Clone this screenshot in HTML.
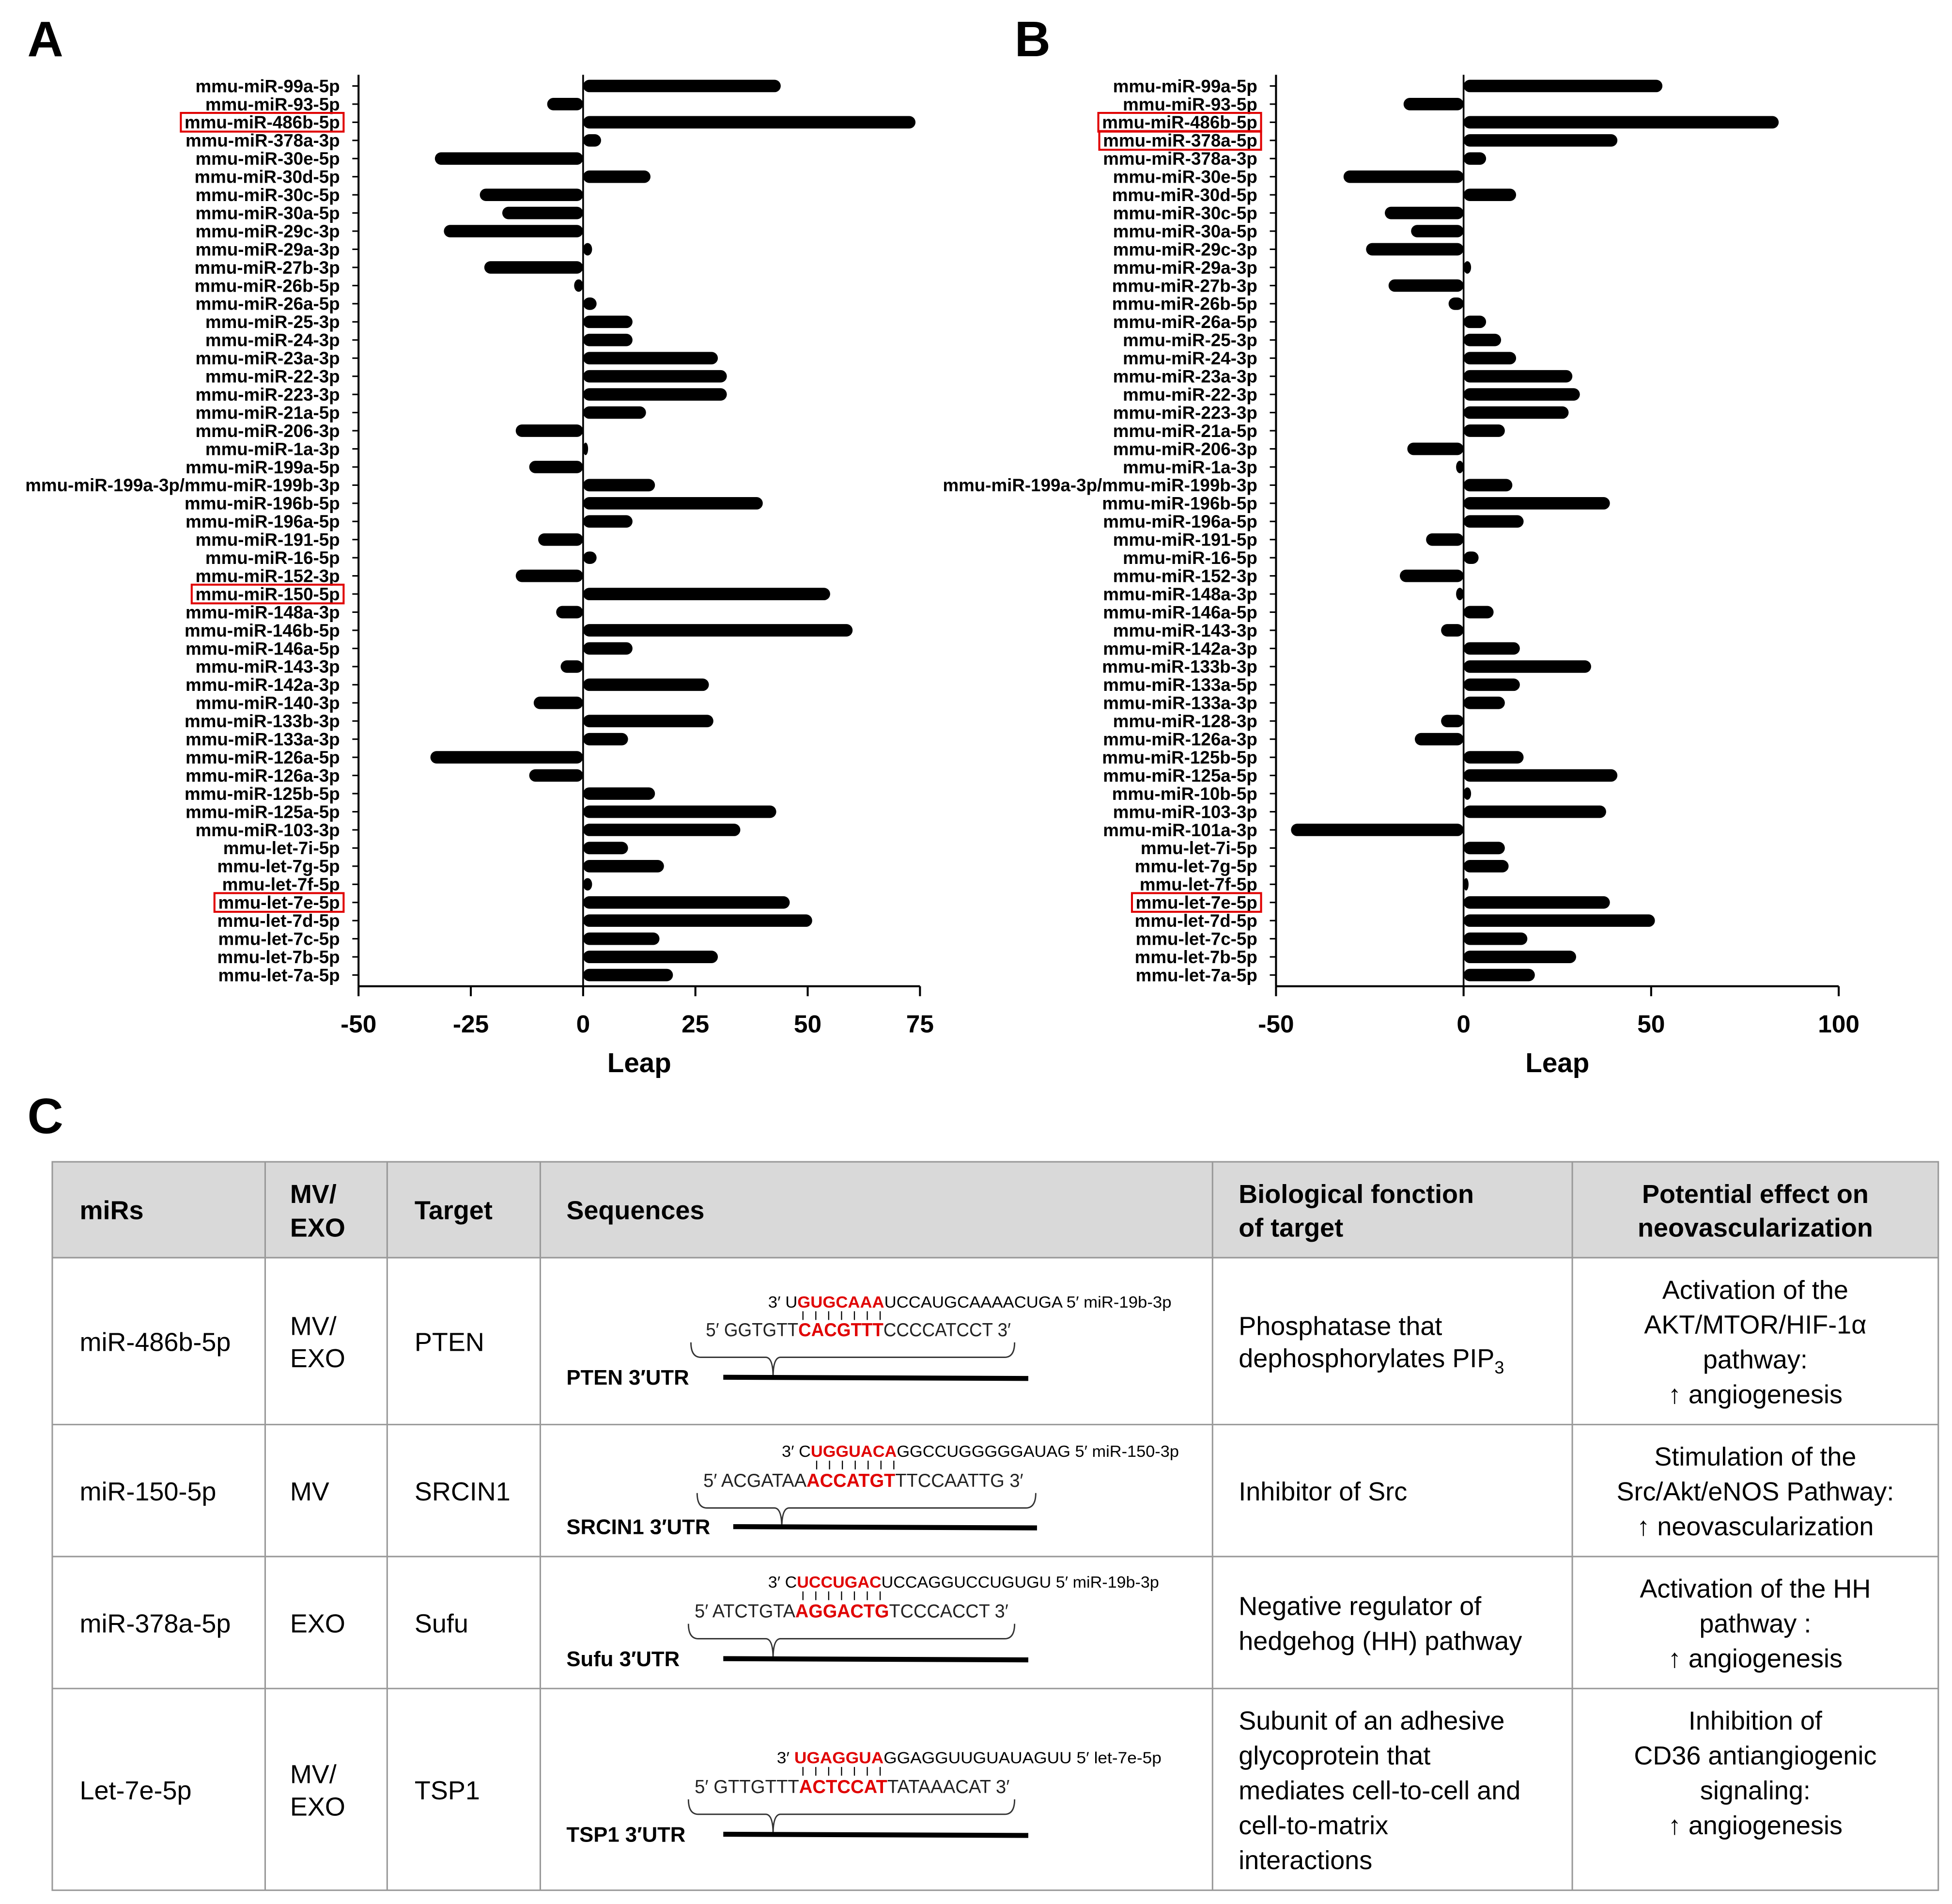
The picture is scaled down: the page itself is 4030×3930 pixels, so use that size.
<!DOCTYPE html>
<html><head><meta charset="utf-8"><style>
html,body{margin:0;padding:0;background:#fff}
svg{display:block}
text{font-family:"Liberation Sans",sans-serif}
.lab{font-size:14.3px;font-weight:bold;text-anchor:end}
.tick{font-size:20px;font-weight:bold;text-anchor:middle}
.cell{font-size:21px}
.hd{font-size:21px;font-weight:bold}
.sq1{font-size:13px}
.sq2{font-size:15px}
.r{fill:#e00000;font-weight:bold}
.utr{font-size:17px;font-weight:bold}
</style></head><body>
<svg id="fig" width="4030" height="3930" viewBox="0 0 1568 1529" xmlns="http://www.w3.org/2000/svg">
<text x="22" y="45" font-size="40" font-weight="bold">A</text>
<text x="815" y="45" font-size="40" font-weight="bold">B</text>
<text x="22" y="910" font-size="40" font-weight="bold">C</text>
<g id="chartA"></g>
<g id="chartB"></g>

<g>
<rect x="42" y="933" width="1515" height="77" fill="#d9d9d9"/>
<g stroke="#999" stroke-width="1.2" fill="none">
<rect x="42" y="933" width="1515" height="585"/>
<line x1="42" y1="1010" x2="1557" y2="1010"/><line x1="42" y1="1144" x2="1557" y2="1144"/>
<line x1="42" y1="1250" x2="1557" y2="1250"/><line x1="42" y1="1356" x2="1557" y2="1356"/>
<line x1="213" y1="933" x2="213" y2="1518"/><line x1="311" y1="933" x2="311" y2="1518"/>
<line x1="434" y1="933" x2="434" y2="1518"/><line x1="974" y1="933" x2="974" y2="1518"/>
<line x1="1263" y1="933" x2="1263" y2="1518"/>
</g>
<g class="hd">
<text x="64" y="979">miRs</text>
<text x="233" y="966">MV/<tspan x="233" dy="27">EXO</tspan></text>
<text x="333" y="979">Target</text>
<text x="455" y="979">Sequences</text>
<text x="995" y="966">Biological fonction<tspan x="995" dy="27">of target</tspan></text>
<text x="1410" y="966" text-anchor="middle">Potential effect on<tspan x="1410" dy="27">neovascularization</tspan></text>
</g>
<g class="cell">
<text x="64" y="1085">miR-486b-5p</text>
<text x="233" y="1072">MV/<tspan x="233" dy="26">EXO</tspan></text>
<text x="333" y="1085">PTEN</text>
<text x="995" y="1072">Phosphatase that<tspan x="995" dy="26">dephosphorylates PIP</tspan><tspan font-size="14" dy="5">3</tspan></text>
<text x="1410" y="1043" text-anchor="middle">Activation of the<tspan x="1410" dy="28">AKT/MTOR/HIF-1α</tspan><tspan x="1410" dy="28">pathway:</tspan><tspan x="1410" dy="28">↑ angiogenesis</tspan></text>

<text x="64" y="1205">miR-150-5p</text>
<text x="233" y="1205">MV</text>
<text x="333" y="1205">SRCIN1</text>
<text x="995" y="1205">Inhibitor of Src</text>
<text x="1410" y="1177" text-anchor="middle">Stimulation of the<tspan x="1410" dy="28">Src/Akt/eNOS Pathway:</tspan><tspan x="1410" dy="28">↑ neovascularization</tspan></text>

<text x="64" y="1311">miR-378a-5p</text>
<text x="233" y="1311">EXO</text>
<text x="333" y="1311">Sufu</text>
<text x="995" y="1297">Negative regulator of<tspan x="995" dy="28">hedgehog (HH) pathway</tspan></text>
<text x="1410" y="1283" text-anchor="middle">Activation of the HH<tspan x="1410" dy="28">pathway :</tspan><tspan x="1410" dy="28">↑ angiogenesis</tspan></text>

<text x="64" y="1445">Let-7e-5p</text>
<text x="233" y="1432">MV/<tspan x="233" dy="26">EXO</tspan></text>
<text x="333" y="1445">TSP1</text>
<text x="995" y="1389">Subunit of an adhesive<tspan x="995" dy="28">glycoprotein that</tspan><tspan x="995" dy="28">mediates cell-to-cell and</tspan><tspan x="995" dy="28">cell-to-matrix</tspan><tspan x="995" dy="28">interactions</tspan></text>
<text x="1410" y="1389" text-anchor="middle">Inhibition of<tspan x="1410" dy="28">CD36 antiangiogenic</tspan><tspan x="1410" dy="28">signaling:</tspan><tspan x="1410" dy="28">↑ angiogenesis</tspan></text>
</g>
<g id="seqs"></g>
</g>
</svg>
<script>
const NS="http://www.w3.org/2000/svg";
const labelsA=["mmu-miR-99a-5p","mmu-miR-93-5p","mmu-miR-486b-5p","mmu-miR-378a-3p","mmu-miR-30e-5p","mmu-miR-30d-5p","mmu-miR-30c-5p","mmu-miR-30a-5p","mmu-miR-29c-3p","mmu-miR-29a-3p","mmu-miR-27b-3p","mmu-miR-26b-5p","mmu-miR-26a-5p","mmu-miR-25-3p","mmu-miR-24-3p","mmu-miR-23a-3p","mmu-miR-22-3p","mmu-miR-223-3p","mmu-miR-21a-5p","mmu-miR-206-3p","mmu-miR-1a-3p","mmu-miR-199a-5p","mmu-miR-199a-3p/mmu-miR-199b-3p","mmu-miR-196b-5p","mmu-miR-196a-5p","mmu-miR-191-5p","mmu-miR-16-5p","mmu-miR-152-3p","mmu-miR-150-5p","mmu-miR-148a-3p","mmu-miR-146b-5p","mmu-miR-146a-5p","mmu-miR-143-3p","mmu-miR-142a-3p","mmu-miR-140-3p","mmu-miR-133b-3p","mmu-miR-133a-3p","mmu-miR-126a-5p","mmu-miR-126a-3p","mmu-miR-125b-5p","mmu-miR-125a-5p","mmu-miR-103-3p","mmu-let-7i-5p","mmu-let-7g-5p","mmu-let-7f-5p","mmu-let-7e-5p","mmu-let-7d-5p","mmu-let-7c-5p","mmu-let-7b-5p","mmu-let-7a-5p"];
const valuesA=[44,-8,74,4,-33,15,-23,-18,-31,2,-22,-2,3,11,11,30,32,32,14,-15,0.5,-12,16,40,11,-10,3,-15,55,-6,60,11,-5,28,-11,29,10,-34,-12,16,43,35,10,18,2,46,51,17,30,20];
const ticksA=[-50,-25,0,25,50,75];
const boxedA=["mmu-miR-486b-5p","mmu-miR-150-5p","mmu-let-7e-5p"];
const labelsB=["mmu-miR-99a-5p","mmu-miR-93-5p","mmu-miR-486b-5p","mmu-miR-378a-5p","mmu-miR-378a-3p","mmu-miR-30e-5p","mmu-miR-30d-5p","mmu-miR-30c-5p","mmu-miR-30a-5p","mmu-miR-29c-3p","mmu-miR-29a-3p","mmu-miR-27b-3p","mmu-miR-26b-5p","mmu-miR-26a-5p","mmu-miR-25-3p","mmu-miR-24-3p","mmu-miR-23a-3p","mmu-miR-22-3p","mmu-miR-223-3p","mmu-miR-21a-5p","mmu-miR-206-3p","mmu-miR-1a-3p","mmu-miR-199a-3p/mmu-miR-199b-3p","mmu-miR-196b-5p","mmu-miR-196a-5p","mmu-miR-191-5p","mmu-miR-16-5p","mmu-miR-152-3p","mmu-miR-148a-3p","mmu-miR-146a-5p","mmu-miR-143-3p","mmu-miR-142a-3p","mmu-miR-133b-3p","mmu-miR-133a-5p","mmu-miR-133a-3p","mmu-miR-128-3p","mmu-miR-126a-3p","mmu-miR-125b-5p","mmu-miR-125a-5p","mmu-miR-10b-5p","mmu-miR-103-3p","mmu-miR-101a-3p","mmu-let-7i-5p","mmu-let-7g-5p","mmu-let-7f-5p","mmu-let-7e-5p","mmu-let-7d-5p","mmu-let-7c-5p","mmu-let-7b-5p","mmu-let-7a-5p"];
const valuesB=[53,-16,84,41,6,-32,14,-21,-14,-26,2,-20,-4,6,10,14,29,31,28,11,-15,-2,13,39,16,-10,4,-17,-2,8,-6,15,34,15,11,-6,-13,16,41,2,38,-46,11,12,0,39,51,17,30,19];
const ticksB=[-50,0,50,100];
const boxedB=["mmu-miR-486b-5p","mmu-miR-378a-5p","mmu-let-7e-5p"];

function el(tag,attrs,parent){const e=document.createElementNS(NS,tag);for(const k in attrs)e.setAttribute(k,attrs[k]);parent.appendChild(e);return e;}

function drawChart(g,labels,values,ticks,boxed,x0,x1){
  const lo=ticks[0],hi=ticks[ticks.length-1];
  const xs=v=>x0+(v-lo)/(hi-lo)*(x1-x0);
  const yTop=69,yBot=783,step=(yBot-yTop)/(labels.length-1);
  const ys=i=>yTop+i*step;
  const zx=xs(0);
  const ya=el('line',{x1:x0,y1:60,x2:x0,y2:792,stroke:'#000','stroke-width':1.6},g);
  
  const xa=el('line',{x1:x0,y1:792,x2:x1,y2:792,stroke:'#000','stroke-width':1.6},g);
  
  el('line',{x1:zx,y1:60,x2:zx,y2:792,stroke:'#000','stroke-width':1.4},g);
  ticks.forEach(t=>{
    el('line',{x1:xs(t),y1:792,x2:xs(t),y2:800,stroke:'#000','stroke-width':1.6},g);
    const tl=el('text',{x:xs(t),y:829,class:'tick'},g);tl.textContent=t;
    
    
  });
  const xt=el('text',{x:(x0+x1)/2,y:861,'font-size':22,'font-weight':'bold','text-anchor':'middle'},g);
  xt.textContent='Leap';
  
  
  labels.forEach((lab,i)=>{
    const y=ys(i);
    el('line',{x1:x0-5,y1:y,x2:x0,y2:y,stroke:'#000','stroke-width':1.2},g);
    const t=el('text',{x:x0-15,y:y+5,class:'lab'},g);t.textContent=lab;
    
    
    if(boxed.includes(lab)){
      let w;try{w=t.getComputedTextLength()+6;}catch(e){w=lab.length*8.3+6;}
      if(!w||w<10)w=lab.length*8.3+6;
      const b=el('rect',{x:x0-12-w,y:y-7.5,width:w,height:15,fill:'none',stroke:'#e00000','stroke-width':1.6},g);
      
      
    }
    const v=values[i];
    const w=Math.max(Math.abs(xs(v)-zx),4);
    const bar=el('rect',{x:v<0?zx-w:zx,y:y-5,width:w,height:10,rx:5,fill:'#000'},g);
    
    
  });
}
drawChart(document.getElementById('chartA'),labelsA,valuesA,ticksA,boxedA,288,739);
drawChart(document.getElementById('chartB'),labelsB,valuesB,ticksB,boxedB,1025,1477);

const seqs=[
 {ty:1050,tx:617,tparts:["3′ U","GUGCAAA","UCCAUGCAAAACUGA 5′  miR-19b-3p"],tw:324,my:1073,mx:567,mparts:["5′ GGTGTT","CACGTTT","CCCCATCCT 3′"],mw:245,b1:555,b2:815,p:621,ly:1112,lab:"PTEN 3′UTR",l1:581,l2:826,bx:645,bw:62},
 {ty:1170,tx:628,tparts:["3′ C","UGGUACA","GGCCUGGGGGAUAG 5′  miR-150-3p"],tw:319,my:1194,mx:565,mparts:["5′ ACGATAA","ACCATGT","TTCCAATTG 3′"],mw:257,b1:560,b2:832,p:628,ly:1232,lab:"SRCIN1 3′UTR",l1:589,l2:833,bx:656,bw:62},
 {ty:1275,tx:617,tparts:["3′ C","UCCUGAC","UCCAGGUCCUGUGU 5′  miR-19b-3p"],tw:314,my:1299,mx:558,mparts:["5′ ATCTGTA","AGGACTG","TCCCACCT 3′"],mw:252,b1:553,b2:815,p:621,ly:1338,lab:"Sufu 3′UTR",l1:581,l2:826,bx:645,bw:62},
 {ty:1416,tx:624,tparts:["3′ ","UGAGGUA","GGAGGUUGUAUAGUU 5′  let-7e-5p"],tw:309,my:1440,mx:558,mparts:["5′ GTTGTTT","ACTCCAT","TATAAACAT 3′"],mw:253,b1:553,b2:815,p:621,ly:1479,lab:"TSP1 3′UTR",l1:581,l2:826,bx:645,bw:62}
];
const sg=document.getElementById('seqs');
seqs.forEach(s=>{
  const g=el('g',{},sg);
  
  
  const t=el('text',{x:s.tx,y:s.ty,class:'sq1',textLength:s.tw,lengthAdjust:'spacingAndGlyphs'},g);
  s.tparts.forEach((p,i)=>{const ts=el('tspan',i==1?{class:'r'}:{},t);ts.textContent=p;});
  for(let k=0;k<7;k++){const x=s.bx+k*s.bw/6;el('line',{x1:x,y1:s.ty+3,x2:x,y2:s.ty+10,stroke:'#000','stroke-width':0.9},g);}
  const m=el('text',{x:s.mx,y:s.my,class:'sq2',fill:'#222',textLength:s.mw,lengthAdjust:'spacingAndGlyphs'},g);
  s.mparts.forEach((p,i)=>{const ts=el('tspan',i==1?{class:'r'}:{},m);ts.textContent=p;});
  const by=s.my+5;
  el('path',{d:`M${s.b1} ${by} Q${s.b1} ${by+12} ${s.b1+8} ${by+12} L${s.p-6} ${by+12} Q${s.p} ${by+12} ${s.p} ${by+28} Q${s.p} ${by+12} ${s.p+6} ${by+12} L${s.b2-8} ${by+12} Q${s.b2} ${by+12} ${s.b2} ${by}`,fill:'none',stroke:'#333','stroke-width':1.1},g);
  const lt=el('text',{x:455,y:s.ly,class:'utr'},g);lt.textContent=s.lab;
  el('line',{x1:s.l1,y1:s.ly-6,x2:s.l2,y2:s.ly-5,stroke:'#000','stroke-width':4},g);
});
</script>
</body></html>
